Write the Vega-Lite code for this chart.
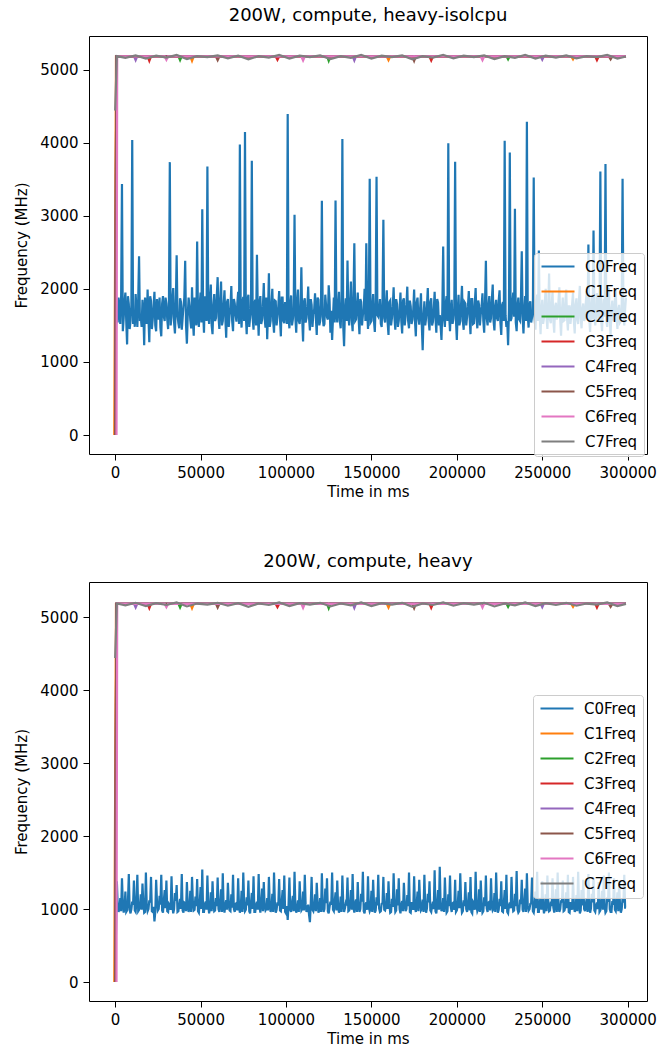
{
"$schema": "https://vega.github.io/schema/vega-lite/v6.json",
"padding": {"left": 14, "top": 6, "right": 8, "bottom": 4},
"config": {
  "font": "DejaVu Sans",
  "view": {"stroke": "#000000", "strokeWidth": 1},
  "axis": {"grid": false, "domain": false, "tickColor": "#000000", "tickSize": 6, "labelFontSize": 15, "labelColor": "#000000", "labelPadding": 5, "titleFontSize": 15, "titleFontWeight": "normal", "titleColor": "#000000", "labelFlush": false, "labelOverlap": false},
  "axisX": {"titlePadding": 4},
  "axisY": {"titlePadding": 10},
  "title": {"fontSize": 18, "fontWeight": "normal", "color": "#000000", "offset": 11, "anchor": "middle", "frame": "group"},
  "legend": {"fillColor": "rgba(255,255,255,0.8)", "strokeColor": "#cccccc", "cornerRadius": 3, "padding": 6, "symbolType": "stroke", "symbolStrokeWidth": 2.2, "symbolSize": 1089, "labelOffset": 9, "labelFontSize": 15, "labelColor": "#000000", "clipHeight": 15, "rowPadding": 9},
  "concat": {"spacing": 52}
},
"datasets": {
"c0": [
{"t":0,"a":0,"b":0},{"t":1000,"a":1650,"b":1380},{"t":2000,"a":1880,"b":960},{"t":3000,"a":1520,"b":1150},{"t":4000,"a":3434,"b":1420},{"t":5000,"a":1600,"b":950},{"t":6000,"a":1950,"b":1240},{"t":7000,"a":1240,"b":980},{"t":8000,"a":1790,"b":1480},{"t":9000,"a":1560,"b":940},
{"t":10000,"a":4038,"b":1100},{"t":11000,"a":1700,"b":1390},{"t":12000,"a":1930,"b":960},{"t":13000,"a":1480,"b":1470},{"t":14000,"a":2446,"b":990},{"t":15000,"a":1620,"b":1200},{"t":16000,"a":1850,"b":1350},{"t":17000,"a":1228,"b":950},{"t":18000,"a":1760,"b":1500},{"t":19000,"a":1990,"b":970},
{"t":20000,"a":1270,"b":1120},{"t":21000,"a":1840,"b":1440},{"t":22000,"a":1580,"b":960},{"t":23000,"a":1960,"b":830},{"t":24000,"a":1420,"b":1400},{"t":25000,"a":1700,"b":980},{"t":26000,"a":1880,"b":1180},{"t":27000,"a":1350,"b":1470},{"t":28000,"a":1900,"b":950},{"t":29000,"a":1560,"b":1260},
{"t":30000,"a":1800,"b":1390},{"t":31000,"a":1450,"b":960},{"t":32000,"a":3734,"b":1050},{"t":33000,"a":1620,"b":1450},{"t":34000,"a":2010,"b":940},{"t":35000,"a":1390,"b":1220},{"t":36000,"a":2460,"b":1330},{"t":37000,"a":1530,"b":970},{"t":38000,"a":1870,"b":1140},{"t":39000,"a":1440,"b":1480},
{"t":40000,"a":1760,"b":950},{"t":41000,"a":2383,"b":1080},{"t":42000,"a":1250,"b":1370},{"t":43000,"a":1880,"b":960},{"t":44000,"a":1570,"b":1250},{"t":45000,"a":2020,"b":1440},{"t":46000,"a":1360,"b":980},{"t":47000,"a":1820,"b":1170},{"t":48000,"a":2647,"b":1410},{"t":49000,"a":1480,"b":950},
{"t":50000,"a":1950,"b":1300},{"t":51000,"a":3088,"b":1540},{"t":52000,"a":1400,"b":960},{"t":53000,"a":1840,"b":1100},{"t":54000,"a":3674,"b":1460},{"t":55000,"a":1520,"b":940},{"t":56000,"a":2060,"b":1230},{"t":57000,"a":1380,"b":1380},{"t":58000,"a":1930,"b":970},{"t":59000,"a":1600,"b":1150},
{"t":60000,"a":2160,"b":1430},{"t":61000,"a":1450,"b":960},{"t":62000,"a":2100,"b":1270},{"t":63000,"a":1560,"b":1490},{"t":64000,"a":1980,"b":950},{"t":65000,"a":1330,"b":1120},{"t":66000,"a":1860,"b":1360},{"t":67000,"a":1640,"b":980},{"t":68000,"a":2040,"b":1200},{"t":69000,"a":1420,"b":1470},
{"t":70000,"a":1800,"b":960},{"t":71000,"a":1550,"b":1080},{"t":72000,"a":1960,"b":1420},{"t":73000,"a":3974,"b":950},{"t":74000,"a":1470,"b":1250},{"t":75000,"a":1890,"b":1500},{"t":76000,"a":4147,"b":970},{"t":77000,"a":1380,"b":1160},{"t":78000,"a":1920,"b":1390},{"t":79000,"a":1610,"b":940},
{"t":80000,"a":3752,"b":1220},{"t":81000,"a":1440,"b":1450},{"t":82000,"a":1850,"b":960},{"t":83000,"a":2465,"b":1100},{"t":84000,"a":1360,"b":1480},{"t":85000,"a":1900,"b":950},{"t":86000,"a":1580,"b":1280},{"t":87000,"a":2080,"b":1370},{"t":88000,"a":1470,"b":980},{"t":89000,"a":1310,"b":1150},
{"t":90000,"a":2214,"b":1440},{"t":91000,"a":1560,"b":960},{"t":92000,"a":2000,"b":1210},{"t":93000,"a":1400,"b":1500},{"t":94000,"a":1830,"b":950},{"t":95000,"a":1620,"b":1090},{"t":96000,"a":1970,"b":1410},{"t":97000,"a":1350,"b":970},{"t":98000,"a":1880,"b":1260},{"t":99000,"a":1530,"b":1460},
{"t":100000,"a":1760,"b":940},{"t":101000,"a":4393,"b":850},{"t":102000,"a":1460,"b":1430},{"t":103000,"a":1910,"b":960},{"t":104000,"a":1580,"b":1180},{"t":105000,"a":3015,"b":1510},{"t":106000,"a":1400,"b":950},{"t":107000,"a":1990,"b":1120},{"t":108000,"a":1520,"b":1380},{"t":109000,"a":2296,"b":980},
{"t":110000,"a":1280,"b":1240},{"t":111000,"a":1870,"b":1470},{"t":112000,"a":1600,"b":960},{"t":113000,"a":2030,"b":1060},{"t":114000,"a":1430,"b":820},{"t":115000,"a":1780,"b":1440},{"t":116000,"a":1650,"b":970},{"t":117000,"a":1940,"b":1200},{"t":118000,"a":1370,"b":1360},{"t":119000,"a":1850,"b":950},
{"t":120000,"a":1560,"b":1150},{"t":121000,"a":3206,"b":1490},{"t":122000,"a":1490,"b":960},{"t":123000,"a":1920,"b":1280},{"t":124000,"a":1610,"b":1420},{"t":125000,"a":2050,"b":940},{"t":126000,"a":1400,"b":1100},{"t":127000,"a":1300,"b":1500},{"t":128000,"a":1880,"b":970},{"t":129000,"a":3210,"b":1230},
{"t":130000,"a":1540,"b":1390},{"t":131000,"a":1960,"b":950},{"t":132000,"a":1460,"b":1170},{"t":133000,"a":4052,"b":1460},{"t":134000,"a":1214,"b":960},{"t":135000,"a":1870,"b":1080},{"t":136000,"a":2387,"b":1430},{"t":137000,"a":1500,"b":980},{"t":138000,"a":2100,"b":1260},{"t":139000,"a":1420,"b":1480},
{"t":140000,"a":2624,"b":950},{"t":141000,"a":1580,"b":1130},{"t":142000,"a":1950,"b":1370},{"t":143000,"a":1380,"b":960},{"t":144000,"a":1820,"b":1210},{"t":145000,"a":1640,"b":1510},{"t":146000,"a":2000,"b":940},{"t":147000,"a":2624,"b":1090},{"t":148000,"a":1450,"b":1450},{"t":149000,"a":3506,"b":970},
{"t":150000,"a":1560,"b":1250},{"t":151000,"a":1930,"b":1400},{"t":152000,"a":1410,"b":950},{"t":153000,"a":3533,"b":1160},{"t":154000,"a":1620,"b":1470},{"t":155000,"a":1860,"b":960},{"t":156000,"a":1480,"b":1070},{"t":157000,"a":2947,"b":1440},{"t":158000,"a":1540,"b":980},{"t":159000,"a":1980,"b":1220},
{"t":160000,"a":1370,"b":1380},{"t":161000,"a":1840,"b":950},{"t":162000,"a":1600,"b":1140},{"t":163000,"a":2020,"b":1490},{"t":164000,"a":1440,"b":960},{"t":165000,"a":1790,"b":1270},{"t":166000,"a":1560,"b":1420},{"t":167000,"a":1950,"b":940},{"t":168000,"a":1390,"b":1110},{"t":169000,"a":1870,"b":1360},
{"t":170000,"a":1620,"b":970},{"t":171000,"a":2030,"b":1190},{"t":172000,"a":1460,"b":1500},{"t":173000,"a":1760,"b":950},{"t":174000,"a":1580,"b":1080},{"t":175000,"a":1990,"b":1450},{"t":176000,"a":1350,"b":960},{"t":177000,"a":1880,"b":1240},{"t":178000,"a":1510,"b":1400},{"t":179000,"a":1940,"b":980},
{"t":180000,"a":1160,"b":1130},{"t":181000,"a":1830,"b":1470},{"t":182000,"a":1600,"b":950},{"t":183000,"a":2010,"b":1210},{"t":184000,"a":1430,"b":1380},{"t":185000,"a":1870,"b":960},{"t":186000,"a":1550,"b":1100},{"t":187000,"a":1960,"b":1530},{"t":188000,"a":1400,"b":940},{"t":189000,"a":1810,"b":1260},
{"t":190000,"a":1640,"b":1580},{"t":191000,"a":1300,"b":970},{"t":192000,"a":2578,"b":1150},{"t":193000,"a":1480,"b":1430},{"t":194000,"a":1900,"b":950},{"t":195000,"a":3993,"b":1200},{"t":196000,"a":1420,"b":1460},{"t":197000,"a":1850,"b":960},{"t":198000,"a":1590,"b":1090},{"t":199000,"a":3738,"b":1400},
{"t":200000,"a":1300,"b":980},{"t":201000,"a":1920,"b":1250},{"t":202000,"a":1560,"b":1490},{"t":203000,"a":2040,"b":950},{"t":204000,"a":1440,"b":1120},{"t":205000,"a":1800,"b":1370},{"t":206000,"a":1620,"b":960},{"t":207000,"a":1970,"b":1230},{"t":208000,"a":1380,"b":1440},{"t":209000,"a":1860,"b":940},
{"t":210000,"a":1530,"b":1080},{"t":211000,"a":2010,"b":1510},{"t":212000,"a":1460,"b":970},{"t":213000,"a":1780,"b":1270},{"t":214000,"a":1650,"b":1390},{"t":215000,"a":1940,"b":950},{"t":216000,"a":1400,"b":1160},{"t":217000,"a":2383,"b":1460},{"t":218000,"a":1500,"b":960},{"t":219000,"a":1900,"b":1100},
{"t":220000,"a":1600,"b":1420},{"t":221000,"a":2060,"b":980},{"t":222000,"a":1430,"b":1220},{"t":223000,"a":1850,"b":1500},{"t":224000,"a":1560,"b":950},{"t":225000,"a":1980,"b":1140},{"t":226000,"a":1370,"b":1380},{"t":227000,"a":1820,"b":960},{"t":228000,"a":4025,"b":1260},{"t":229000,"a":1480,"b":1470},
{"t":230000,"a":1228,"b":940},{"t":231000,"a":3865,"b":1090},{"t":232000,"a":1600,"b":1440},{"t":233000,"a":1950,"b":970},{"t":234000,"a":3097,"b":1210},{"t":235000,"a":1420,"b":1520},{"t":236000,"a":1880,"b":950},{"t":237000,"a":1560,"b":1130},{"t":238000,"a":2514,"b":1400},{"t":239000,"a":1390,"b":960},
{"t":240000,"a":1900,"b":1280},{"t":241000,"a":4288,"b":1490},{"t":242000,"a":1470,"b":980},{"t":243000,"a":1830,"b":1070},{"t":244000,"a":1610,"b":1430},{"t":245000,"a":3524,"b":950},{"t":246000,"a":1440,"b":1240},{"t":247000,"a":1920,"b":1510},{"t":248000,"a":2524,"b":960},{"t":249000,"a":1380,"b":1150},
{"t":250000,"a":1850,"b":1380},{"t":251000,"a":1600,"b":940},{"t":252000,"a":2000,"b":1200},{"t":253000,"a":1450,"b":1460},{"t":254000,"a":2210,"b":970},{"t":255000,"a":1530,"b":1100},{"t":256000,"a":1960,"b":1420},{"t":257000,"a":1400,"b":950},{"t":258000,"a":1810,"b":1270},{"t":259000,"a":1620,"b":1500},
{"t":260000,"a":2020,"b":960},{"t":261000,"a":1360,"b":1120},{"t":262000,"a":1880,"b":1390},{"t":263000,"a":1570,"b":980},{"t":264000,"a":1990,"b":1230},{"t":265000,"a":1430,"b":1470},{"t":266000,"a":1760,"b":950},{"t":267000,"a":1640,"b":1080},{"t":268000,"a":1950,"b":1440},{"t":269000,"a":1390,"b":960},
{"t":270000,"a":1870,"b":1190},{"t":271000,"a":1520,"b":1510},{"t":272000,"a":2040,"b":940},{"t":273000,"a":1460,"b":1260},{"t":274000,"a":1800,"b":1400},{"t":275000,"a":1600,"b":970},{"t":276000,"a":1970,"b":1140},{"t":277000,"a":2606,"b":1480},{"t":278000,"a":1410,"b":950},{"t":279000,"a":1890,"b":1210},
{"t":280000,"a":2797,"b":1430},{"t":281000,"a":1500,"b":960},{"t":282000,"a":1940,"b":1090},{"t":283000,"a":1560,"b":1370},{"t":284000,"a":3606,"b":980},{"t":285000,"a":1420,"b":1250},{"t":286000,"a":1860,"b":1460},{"t":287000,"a":3707,"b":950},{"t":288000,"a":1480,"b":1160},{"t":289000,"a":2010,"b":1500},
{"t":290000,"a":1370,"b":960},{"t":291000,"a":1840,"b":1110},{"t":292000,"a":1620,"b":1420},{"t":293000,"a":1990,"b":970},{"t":294000,"a":1450,"b":1230},{"t":295000,"a":1780,"b":1390},{"t":296000,"a":1560,"b":950},{"t":297000,"a":3506,"b":1150},{"t":298000,"a":1500,"b":1470},{"t":299000,"a":1880,"b":1020},
{"t":500,"a":1500,"b":700},{"t":1500,"a":1540,"b":1050},{"t":2500,"a":1760,"b":1000},{"t":3500,"a":1880,"b":970},{"t":4500,"a":1420,"b":1080},{"t":5500,"a":1820,"b":1020},{"t":6500,"a":1560,"b":960},{"t":7500,"a":1900,"b":1100},{"t":8500,"a":1450,"b":990},{"t":9500,"a":1780,"b":1000},
{"t":10500,"a":1520,"b":1060},{"t":11500,"a":1480,"b":980},{"t":12500,"a":1720,"b":1120},{"t":13500,"a":1850,"b":970},{"t":14500,"a":1560,"b":1040},{"t":15500,"a":1480,"b":990},{"t":16500,"a":1700,"b":1080},{"t":17500,"a":1880,"b":960},{"t":18500,"a":1520,"b":1050},{"t":19500,"a":1600,"b":1000},
{"t":20500,"a":1900,"b":1090},{"t":21500,"a":1450,"b":970},{"t":22500,"a":1760,"b":1030},{"t":23500,"a":1500,"b":960},{"t":24500,"a":1860,"b":1100},{"t":25500,"a":1580,"b":1000},{"t":26500,"a":1470,"b":1060},{"t":27500,"a":1800,"b":980},{"t":28500,"a":1620,"b":1120},{"t":29500,"a":1880,"b":1010},
{"t":30500,"a":1580,"b":970},{"t":31500,"a":1820,"b":1070},{"t":32500,"a":1500,"b":990},{"t":33500,"a":1860,"b":1040},{"t":34500,"a":1540,"b":1000},{"t":35500,"a":1780,"b":1110},{"t":36500,"a":1640,"b":960},{"t":37500,"a":1460,"b":1060},{"t":38500,"a":1820,"b":1000},{"t":39500,"a":1600,"b":980},
{"t":40500,"a":1880,"b":1090},{"t":41500,"a":1500,"b":970},{"t":42500,"a":1640,"b":1050},{"t":43500,"a":1760,"b":1020},{"t":44500,"a":1460,"b":960},{"t":45500,"a":1580,"b":1100},{"t":46500,"a":1880,"b":990},{"t":47500,"a":1500,"b":1040},{"t":48500,"a":1620,"b":970},{"t":49500,"a":1790,"b":1080},
{"t":50500,"a":1540,"b":1000},{"t":51500,"a":1700,"b":960},{"t":52500,"a":1900,"b":1070},{"t":53500,"a":1560,"b":990},{"t":54500,"a":1680,"b":1050},{"t":55500,"a":1860,"b":1010},{"t":56500,"a":1500,"b":970},{"t":57500,"a":1770,"b":1090},{"t":58500,"a":1560,"b":980},{"t":59500,"a":1900,"b":1040},
{"t":60500,"a":1620,"b":1000},{"t":61500,"a":1840,"b":1080},{"t":62500,"a":1500,"b":960},{"t":63500,"a":1780,"b":1030},{"t":64500,"a":1600,"b":1060},{"t":65500,"a":1820,"b":990},{"t":66500,"a":1480,"b":1100},{"t":67500,"a":1740,"b":970},{"t":68500,"a":1560,"b":1020},{"t":69500,"a":1860,"b":1000},
{"t":70500,"a":1640,"b":1070},{"t":71500,"a":1800,"b":980},{"t":72500,"a":1520,"b":1040},{"t":73500,"a":1700,"b":1010},{"t":74500,"a":1820,"b":960},{"t":75500,"a":1560,"b":1090},{"t":76500,"a":1640,"b":990},{"t":77500,"a":1860,"b":1050},{"t":78500,"a":1480,"b":970},{"t":79500,"a":1700,"b":1080},
{"t":80500,"a":1600,"b":1000},{"t":81500,"a":1800,"b":960},{"t":82500,"a":1500,"b":1060},{"t":83500,"a":1700,"b":990},{"t":84500,"a":1820,"b":1030},{"t":85500,"a":1520,"b":1100},{"t":86500,"a":1760,"b":970},{"t":87500,"a":1600,"b":1040},{"t":88500,"a":1880,"b":1000},{"t":89500,"a":1700,"b":980},
{"t":90500,"a":1480,"b":1070},{"t":91500,"a":1800,"b":1010},{"t":92500,"a":1560,"b":960},{"t":93500,"a":1840,"b":1090},{"t":94500,"a":1500,"b":990},{"t":95500,"a":1760,"b":1050},{"t":96500,"a":1580,"b":980},{"t":97500,"a":1880,"b":1100},{"t":98500,"a":1560,"b":1000},{"t":99500,"a":1820,"b":960},
{"t":100500,"a":1520,"b":1040},{"t":101500,"a":1600,"b":1060},{"t":102500,"a":1780,"b":990},{"t":103500,"a":1500,"b":1080},{"t":104500,"a":1720,"b":970},{"t":105500,"a":1600,"b":1030},{"t":106500,"a":1820,"b":1010},{"t":107500,"a":1560,"b":960},{"t":108500,"a":1700,"b":1090},{"t":109500,"a":1580,"b":1000},
{"t":110500,"a":1820,"b":980},{"t":111500,"a":1540,"b":1060},{"t":112500,"a":1760,"b":1010},{"t":113500,"a":1600,"b":920},{"t":114500,"a":1860,"b":1070},{"t":115500,"a":1480,"b":990},{"t":116500,"a":1720,"b":1040},{"t":117500,"a":1600,"b":970},{"t":118500,"a":1880,"b":1100},{"t":119500,"a":1500,"b":1000},
{"t":120500,"a":1780,"b":960},{"t":121500,"a":1620,"b":1050},{"t":122500,"a":1520,"b":1000},{"t":123500,"a":1760,"b":1080},{"t":124500,"a":1580,"b":970},{"t":125500,"a":1840,"b":1030},{"t":126500,"a":1700,"b":1060},{"t":127500,"a":1600,"b":990},{"t":128500,"a":1540,"b":1100},{"t":129500,"a":1680,"b":980},
{"t":130500,"a":1760,"b":1040},{"t":131500,"a":1560,"b":1000},{"t":132500,"a":1820,"b":960},{"t":133500,"a":1500,"b":1090},{"t":134500,"a":1700,"b":1010},{"t":135500,"a":1560,"b":1050},{"t":136500,"a":1640,"b":970},{"t":137500,"a":1780,"b":1070},{"t":138500,"a":1580,"b":990},{"t":139500,"a":1880,"b":1020},
{"t":140500,"a":1560,"b":1080},{"t":141500,"a":1760,"b":960},{"t":142500,"a":1600,"b":1040},{"t":143500,"a":1860,"b":1000},{"t":144500,"a":1500,"b":1100},{"t":145500,"a":1720,"b":970},{"t":146500,"a":1560,"b":1060},{"t":147500,"a":1720,"b":990},{"t":148500,"a":1800,"b":1030},{"t":149500,"a":1540,"b":1000},
{"t":150500,"a":1760,"b":960},{"t":151500,"a":1560,"b":1090},{"t":152500,"a":1820,"b":980},{"t":153500,"a":1640,"b":1050},{"t":154500,"a":1720,"b":1010},{"t":155500,"a":1520,"b":970},{"t":156500,"a":1840,"b":1080},{"t":157500,"a":1600,"b":990},{"t":158500,"a":1760,"b":1040},{"t":159500,"a":1540,"b":1000},
{"t":160500,"a":1820,"b":1070},{"t":161500,"a":1500,"b":960},{"t":162500,"a":1760,"b":1030},{"t":163500,"a":1600,"b":1100},{"t":164500,"a":1860,"b":980},{"t":165500,"a":1480,"b":1050},{"t":166500,"a":1720,"b":1000},{"t":167500,"a":1560,"b":1060},{"t":168500,"a":1840,"b":970},{"t":169500,"a":1500,"b":1090},
{"t":170500,"a":1780,"b":1000},{"t":171500,"a":1560,"b":1040},{"t":172500,"a":1840,"b":960},{"t":173500,"a":1520,"b":1080},{"t":174500,"a":1720,"b":990},{"t":175500,"a":1560,"b":1030},{"t":176500,"a":1820,"b":1070},{"t":177500,"a":1600,"b":970},{"t":178500,"a":1720,"b":1100},{"t":179500,"a":1500,"b":1000},
{"t":180500,"a":1620,"b":960},{"t":181500,"a":1500,"b":1050},{"t":182500,"a":1760,"b":1010},{"t":183500,"a":1560,"b":1090},{"t":184500,"a":1820,"b":980},{"t":185500,"a":1500,"b":1040},{"t":186500,"a":1720,"b":1000},{"t":187500,"a":1600,"b":970},{"t":188500,"a":1860,"b":1080},{"t":189500,"a":1500,"b":990},
{"t":190500,"a":1500,"b":1060},{"t":191500,"a":1700,"b":1000},{"t":192500,"a":1600,"b":960},{"t":193500,"a":1800,"b":1100},{"t":194500,"a":1560,"b":970},{"t":195500,"a":1640,"b":1040},{"t":196500,"a":1740,"b":1020},{"t":197500,"a":1520,"b":1080},{"t":198500,"a":1720,"b":990},{"t":199500,"a":1560,"b":960},
{"t":200500,"a":1700,"b":1050},{"t":201500,"a":1500,"b":1010},{"t":202500,"a":1800,"b":1090},{"t":203500,"a":1560,"b":970},{"t":204500,"a":1820,"b":1040},{"t":205500,"a":1500,"b":1000},{"t":206500,"a":1760,"b":1070},{"t":207500,"a":1600,"b":980},{"t":208500,"a":1860,"b":960},{"t":209500,"a":1520,"b":1100},
{"t":210500,"a":1800,"b":990},{"t":211500,"a":1600,"b":1050},{"t":212500,"a":1840,"b":1000},{"t":213500,"a":1500,"b":960},{"t":214500,"a":1760,"b":1080},{"t":215500,"a":1560,"b":970},{"t":216500,"a":1820,"b":1040},{"t":217500,"a":1600,"b":1010},{"t":218500,"a":1760,"b":1090},{"t":219500,"a":1540,"b":980},
{"t":220500,"a":1860,"b":1060},{"t":221500,"a":1560,"b":1000},{"t":222500,"a":1760,"b":960},{"t":223500,"a":1600,"b":1100},{"t":224500,"a":1840,"b":990},{"t":225500,"a":1540,"b":1040},{"t":226500,"a":1780,"b":970},{"t":227500,"a":1560,"b":1080},{"t":228500,"a":1640,"b":1000},{"t":229500,"a":1560,"b":960},
{"t":230500,"a":1700,"b":1050},{"t":231500,"a":1560,"b":1010},{"t":232500,"a":1800,"b":1090},{"t":233500,"a":1620,"b":980},{"t":234500,"a":1540,"b":1040},{"t":235500,"a":1760,"b":1000},{"t":236500,"a":1580,"b":970},{"t":237500,"a":1840,"b":1070},{"t":238500,"a":1620,"b":990},{"t":239500,"a":1700,"b":1100},
{"t":240500,"a":1560,"b":960},{"t":241500,"a":1640,"b":1050},{"t":242500,"a":1780,"b":1000},{"t":243500,"a":1540,"b":1080},{"t":244500,"a":1700,"b":970},{"t":245500,"a":1620,"b":1040},{"t":246500,"a":1760,"b":1010},{"t":247500,"a":1560,"b":960},{"t":248500,"a":1660,"b":1090},{"t":249500,"a":1720,"b":990},
{"t":250500,"a":1520,"b":1060},{"t":251500,"a":1820,"b":1000},{"t":252500,"a":1600,"b":970},{"t":253500,"a":1760,"b":1100},{"t":254500,"a":1580,"b":980},{"t":255500,"a":1780,"b":1040},{"t":256500,"a":1560,"b":1020},{"t":257500,"a":1760,"b":1080},{"t":258500,"a":1580,"b":960},{"t":259500,"a":1840,"b":1050},
{"t":260500,"a":1580,"b":1000},{"t":261500,"a":1700,"b":1090},{"t":262500,"a":1560,"b":970},{"t":263500,"a":1820,"b":1040},{"t":264500,"a":1600,"b":1010},{"t":265500,"a":1760,"b":960},{"t":266500,"a":1520,"b":1080},{"t":267500,"a":1800,"b":990},{"t":268500,"a":1560,"b":1060},{"t":269500,"a":1780,"b":1000},
{"t":270500,"a":1580,"b":970},{"t":271500,"a":1860,"b":1100},{"t":272500,"a":1600,"b":980},{"t":273500,"a":1720,"b":1050},{"t":274500,"a":1560,"b":1000},{"t":275500,"a":1820,"b":1070},{"t":276500,"a":1620,"b":960},{"t":277500,"a":1580,"b":1040},{"t":278500,"a":1760,"b":1010},{"t":279500,"a":1580,"b":1090},
{"t":280500,"a":1720,"b":980},{"t":281500,"a":1600,"b":1050},{"t":282500,"a":1820,"b":1000},{"t":283500,"a":1640,"b":960},{"t":284500,"a":1560,"b":1080},{"t":285500,"a":1740,"b":990},{"t":286500,"a":1620,"b":1040},{"t":287500,"a":1560,"b":970},{"t":288500,"a":1860,"b":1100},{"t":289500,"a":1560,"b":1000},
{"t":290500,"a":1720,"b":960},{"t":291500,"a":1560,"b":1060},{"t":292500,"a":1840,"b":990},{"t":293500,"a":1600,"b":1080},{"t":294500,"a":1720,"b":970},{"t":295500,"a":1540,"b":1050},{"t":296500,"a":1760,"b":1000},{"t":297500,"a":1660,"b":1090},{"t":298500,"a":1720,"b":1020}
],
"cx": [
{"c":"C1Freq","t":-500,"v":0},{"c":"C1Freq","t":500,"v":5180},{"c":"C1Freq","t":44000,"v":5180},{"c":"C1Freq","t":45000,"v":5120},{"c":"C1Freq","t":46000,"v":5180},{"c":"C1Freq","t":159000,"v":5180},{"c":"C1Freq","t":160000,"v":5130},{"c":"C1Freq","t":161000,"v":5180},{"c":"C1Freq","t":267000,"v":5180},{"c":"C1Freq","t":268000,"v":5140},{"c":"C1Freq","t":269000,"v":5180},{"c":"C1Freq","t":299000,"v":5180},
{"c":"C2Freq","t":0,"v":0},{"c":"C2Freq","t":700,"v":5180},{"c":"C2Freq","t":37000,"v":5185},{"c":"C2Freq","t":38000,"v":5130},{"c":"C2Freq","t":39000,"v":5185},{"c":"C2Freq","t":124000,"v":5185},{"c":"C2Freq","t":125000,"v":5120},{"c":"C2Freq","t":126000,"v":5185},{"c":"C2Freq","t":229000,"v":5185},{"c":"C2Freq","t":230000,"v":5140},{"c":"C2Freq","t":231000,"v":5185},{"c":"C2Freq","t":299000,"v":5185},
{"c":"C3Freq","t":0,"v":0},{"c":"C3Freq","t":700,"v":5180},{"c":"C3Freq","t":19000,"v":5180},{"c":"C3Freq","t":20000,"v":5120},{"c":"C3Freq","t":21000,"v":5180},{"c":"C3Freq","t":94000,"v":5180},{"c":"C3Freq","t":95000,"v":5135},{"c":"C3Freq","t":96000,"v":5180},{"c":"C3Freq","t":184000,"v":5180},{"c":"C3Freq","t":185000,"v":5125},{"c":"C3Freq","t":186000,"v":5180},{"c":"C3Freq","t":281000,"v":5180},{"c":"C3Freq","t":282000,"v":5130},{"c":"C3Freq","t":283000,"v":5180},{"c":"C3Freq","t":299000,"v":5180},
{"c":"C4Freq","t":0,"v":0},{"c":"C4Freq","t":700,"v":5185},{"c":"C4Freq","t":11000,"v":5185},{"c":"C4Freq","t":12000,"v":5130},{"c":"C4Freq","t":13000,"v":5185},{"c":"C4Freq","t":139000,"v":5185},{"c":"C4Freq","t":140000,"v":5125},{"c":"C4Freq","t":141000,"v":5185},{"c":"C4Freq","t":249000,"v":5185},{"c":"C4Freq","t":250000,"v":5135},{"c":"C4Freq","t":251000,"v":5185},{"c":"C4Freq","t":299000,"v":5185},
{"c":"C5Freq","t":0,"v":0},{"c":"C5Freq","t":700,"v":5180},{"c":"C5Freq","t":59000,"v":5180},{"c":"C5Freq","t":60000,"v":5130},{"c":"C5Freq","t":61000,"v":5180},{"c":"C5Freq","t":174000,"v":5180},{"c":"C5Freq","t":175000,"v":5120},{"c":"C5Freq","t":176000,"v":5180},{"c":"C5Freq","t":289000,"v":5180},{"c":"C5Freq","t":290000,"v":5140},{"c":"C5Freq","t":291000,"v":5180},{"c":"C5Freq","t":299000,"v":5180},
{"c":"C6Freq","t":800,"v":0},{"c":"C6Freq","t":1200,"v":5180},{"c":"C6Freq","t":29000,"v":5180},{"c":"C6Freq","t":30000,"v":5135},{"c":"C6Freq","t":31000,"v":5180},{"c":"C6Freq","t":109000,"v":5180},{"c":"C6Freq","t":110000,"v":5125},{"c":"C6Freq","t":111000,"v":5180},{"c":"C6Freq","t":214000,"v":5180},{"c":"C6Freq","t":215000,"v":5130},{"c":"C6Freq","t":216000,"v":5180},{"c":"C6Freq","t":299000,"v":5180},
{"c":"C7Freq","t":0,"v":4440},{"c":"C7Freq","t":1000,"v":5185},{"c":"C7Freq","t":6000,"v":5160},{"c":"C7Freq","t":12000,"v":5195},{"c":"C7Freq","t":18000,"v":5150},{"c":"C7Freq","t":24000,"v":5190},{"c":"C7Freq","t":30000,"v":5165},{"c":"C7Freq","t":36000,"v":5200},{"c":"C7Freq","t":42000,"v":5145},{"c":"C7Freq","t":48000,"v":5185},{"c":"C7Freq","t":54000,"v":5170},{"c":"C7Freq","t":60000,"v":5195},{"c":"C7Freq","t":66000,"v":5155},{"c":"C7Freq","t":72000,"v":5190},{"c":"C7Freq","t":78000,"v":5140},{"c":"C7Freq","t":84000,"v":5185},{"c":"C7Freq","t":90000,"v":5165},{"c":"C7Freq","t":96000,"v":5200},{"c":"C7Freq","t":102000,"v":5150},{"c":"C7Freq","t":108000,"v":5190},{"c":"C7Freq","t":114000,"v":5170},{"c":"C7Freq","t":120000,"v":5195},{"c":"C7Freq","t":126000,"v":5145},{"c":"C7Freq","t":132000,"v":5185},{"c":"C7Freq","t":138000,"v":5160},{"c":"C7Freq","t":144000,"v":5200},{"c":"C7Freq","t":150000,"v":5150},{"c":"C7Freq","t":156000,"v":5190},{"c":"C7Freq","t":162000,"v":5170},{"c":"C7Freq","t":168000,"v":5195},{"c":"C7Freq","t":174000,"v":5140},{"c":"C7Freq","t":180000,"v":5185},{"c":"C7Freq","t":186000,"v":5165},{"c":"C7Freq","t":192000,"v":5200},{"c":"C7Freq","t":198000,"v":5155},{"c":"C7Freq","t":204000,"v":5190},{"c":"C7Freq","t":210000,"v":5170},{"c":"C7Freq","t":216000,"v":5195},{"c":"C7Freq","t":222000,"v":5145},{"c":"C7Freq","t":228000,"v":5185},{"c":"C7Freq","t":234000,"v":5160},{"c":"C7Freq","t":240000,"v":5200},{"c":"C7Freq","t":246000,"v":5150},{"c":"C7Freq","t":252000,"v":5190},{"c":"C7Freq","t":258000,"v":5165},{"c":"C7Freq","t":264000,"v":5195},{"c":"C7Freq","t":270000,"v":5155},{"c":"C7Freq","t":276000,"v":5185},{"c":"C7Freq","t":282000,"v":5170},{"c":"C7Freq","t":288000,"v":5200},{"c":"C7Freq","t":294000,"v":5150},{"c":"C7Freq","t":299000,"v":5180}
]
},
"vconcat": [
{
  "title": "200W, compute, heavy-isolcpu",
  "width": 558, "height": 418,
  "layer": [
    {"data": {"name": "c0"}, "mark": {"type": "line", "strokeWidth": 2.2},
     "encoding": {
       "x": {"field": "t", "type": "quantitative", "scale": {"domain": [-15300, 311300], "nice": false, "zero": false}, "axis": {"values": [0, 50000, 100000, 150000, 200000, 250000, 300000], "format": "d", "title": "Time in ms"}},
       "y": {"field": "a", "type": "quantitative", "scale": {"domain": [-260, 5460], "nice": false, "zero": false}, "axis": {"values": [0, 1000, 2000, 3000, 4000, 5000], "format": "d", "title": "Frequency (MHz)"}},
       "color": {"datum": "C0Freq", "type": "nominal", "title": null, "scale": {"domain": ["C0Freq","C1Freq","C2Freq","C3Freq","C4Freq","C5Freq","C6Freq","C7Freq"], "range": ["#1f77b4","#ff7f0e","#2ca02c","#d62728","#9467bd","#8c564b","#e377c2","#7f7f7f"]}, "legend": {"title": null, "orient": "none", "legendX": 445, "legendY": 217}}
     }},
    {"data": {"name": "cx"}, "mark": {"type": "line", "strokeWidth": 2.2},
     "encoding": {
       "x": {"field": "t", "type": "quantitative", "title": "Time in ms"},
       "y": {"field": "v", "type": "quantitative", "title": "Frequency (MHz)"},
       "color": {"field": "c", "type": "nominal", "title": null, "legend": {"title": null}}
     }}
  ]
},
{
  "title": "200W, compute, heavy",
  "width": 558, "height": 419,
  "layer": [
    {"data": {"name": "c0"}, "mark": {"type": "line", "strokeWidth": 2.2},
     "encoding": {
       "x": {"field": "t", "type": "quantitative", "scale": {"domain": [-15300, 311300], "nice": false, "zero": false}, "axis": {"values": [0, 50000, 100000, 150000, 200000, 250000, 300000], "format": "d", "title": "Time in ms"}},
       "y": {"field": "b", "type": "quantitative", "scale": {"domain": [-260, 5480], "nice": false, "zero": false}, "axis": {"values": [0, 1000, 2000, 3000, 4000, 5000], "format": "d", "title": "Frequency (MHz)"}},
       "color": {"datum": "C0Freq", "type": "nominal", "title": null, "scale": {"domain": ["C0Freq","C1Freq","C2Freq","C3Freq","C4Freq","C5Freq","C6Freq","C7Freq"], "range": ["#1f77b4","#ff7f0e","#2ca02c","#d62728","#9467bd","#8c564b","#e377c2","#7f7f7f"]}, "legend": {"title": null, "orient": "none", "legendX": 444, "legendY": 113}}
     }},
    {"data": {"name": "cx"}, "mark": {"type": "line", "strokeWidth": 2.2},
     "encoding": {
       "x": {"field": "t", "type": "quantitative", "title": "Time in ms"},
       "y": {"field": "v", "type": "quantitative", "title": "Frequency (MHz)"},
       "color": {"field": "c", "type": "nominal", "title": null, "legend": {"title": null}}
     }}
  ]
}
],
"resolve": {"scale": {"color": "independent"}}
}
